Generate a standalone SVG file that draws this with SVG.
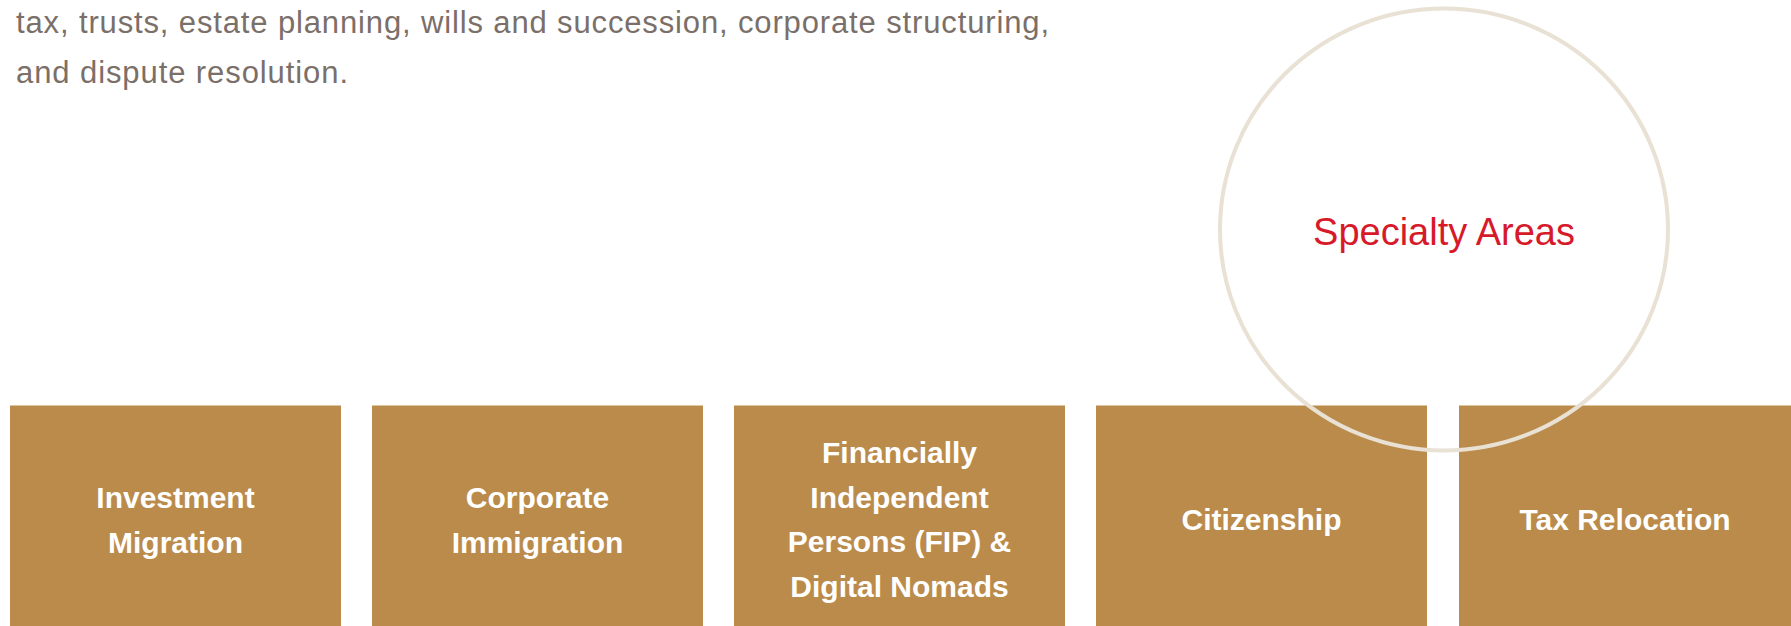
<svg xmlns="http://www.w3.org/2000/svg" width="1791" height="626" viewBox="0 0 1791 626">
<style>
.para{font-family:"Liberation Sans",Arial,sans-serif;font-size:31px;fill:#7b6f69}
.box{fill:#ba8b4b}
.lbl{font-family:"Liberation Sans",Arial,sans-serif;font-size:30px;font-weight:700;fill:#ffffff;text-anchor:middle}
.title{font-family:"Liberation Sans",Arial,sans-serif;font-size:38px;fill:#d71a2a;text-anchor:middle}
</style>
<rect width="1791" height="626" fill="#ffffff"/>
<g id="intro">
<text class="para" x="16" y="33" textLength="1033" lengthAdjust="spacing">tax, trusts, estate planning, wills and succession, corporate structuring,</text>
<text class="para" x="16" y="83" textLength="332" lengthAdjust="spacing">and dispute resolution.</text>
</g>
<g id="node-investment">
<rect class="box" x="10" y="405.5" width="331" height="221"/>
<text class="lbl" x="175.5" y="508">Investment</text>
<text class="lbl" x="175.5" y="552.5">Migration</text>
</g>
<g id="node-corporate">
<rect class="box" x="372" y="405.5" width="331" height="221"/>
<text class="lbl" x="537.5" y="508">Corporate</text>
<text class="lbl" x="537.5" y="552.5">Immigration</text>
</g>
<g id="node-fip">
<rect class="box" x="734" y="405.5" width="331" height="221"/>
<text class="lbl" x="899.5" y="463">Financially</text>
<text class="lbl" x="899.5" y="507.5">Independent</text>
<text class="lbl" x="899.5" y="552">Persons (FIP) &amp;</text>
<text class="lbl" x="899.5" y="596.5">Digital Nomads</text>
</g>
<g id="node-citizenship">
<rect class="box" x="1096" y="405.5" width="331" height="221"/>
<text class="lbl" x="1261.5" y="530">Citizenship</text>
</g>
<g id="node-tax">
<rect class="box" x="1459" y="405.5" width="332" height="221"/>
<text class="lbl" x="1625" y="530">Tax Relocation</text>
</g>
<g id="connectors"></g>
<g id="node-specialty">
<ellipse cx="1444" cy="229.5" rx="224" ry="221" fill="none" stroke="#e8e1d4" stroke-width="4"/>
<text class="title" x="1444" y="245">Specialty Areas</text>
</g>
</svg>
